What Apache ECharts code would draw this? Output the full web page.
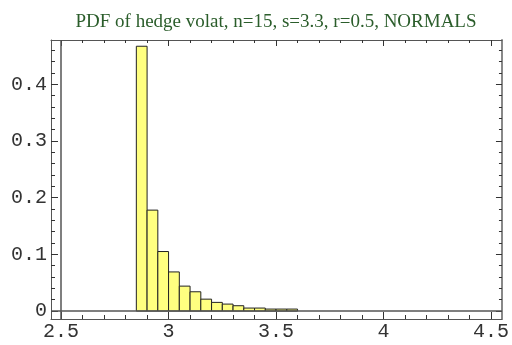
<!DOCTYPE html>
<html>
<head>
<meta charset="utf-8">
<script src="https://cdn.jsdelivr.net/npm/echarts@6/dist/echarts.min.js"></script>
<style>html,body{margin:0;padding:0;background:#fff;}#c{width:512px;height:345px;}</style>
</head>
<body>
<div id="c"></div>
<script>
const titleText = "PDF of hedge volat, n=15, s=3.3, r=0.5, NORMALS";
const binLefts = [2.85, 2.9, 2.95, 3.0, 3.05, 3.1, 3.15, 3.2, 3.25, 3.3, 3.35, 3.4, 3.45, 3.5, 3.55];
const binWidth = 0.05;
const pdfValues = [0.467, 0.178, 0.105, 0.069, 0.044, 0.034, 0.021, 0.0153, 0.0123, 0.0094, 0.0053, 0.0053, 0.0035, 0.0035, 0.0035];
const xTicks = [2.5, 3, 3.5, 4, 4.5];
const xMinorTicks = [2.5, 2.6, 2.7, 2.8, 2.9, 3.0, 3.1, 3.2, 3.3, 3.4, 3.5, 3.6, 3.7, 3.8, 3.9, 4.0, 4.1, 4.2, 4.3, 4.4, 4.5];
const yTicks = [0, 0.1, 0.2, 0.3, 0.4];
const yMinorTicks = [0, 0.02, 0.04, 0.06, 0.08, 0.1, 0.12, 0.14, 0.16, 0.18, 0.2, 0.22, 0.24, 0.26, 0.28, 0.3, 0.32, 0.34, 0.36, 0.38, 0.4, 0.42, 0.44, 0.46];

const X_MIN = 2.453, X_MAX = 4.551, Y_MIN = -0.014, Y_MAX = 0.478;
const frameColor = '#555';
const monoFont = '"Liberation Mono", "DejaVu Sans Mono", monospace';

function xAxisDef(pos, ticks, len, showLabel, showLine) {
  return {
    type: 'value', position: pos, min: X_MIN, max: X_MAX, gridIndex: 0,
    splitLine: {show: false},
    axisLine: {show: showLine, onZero: false, lineStyle: {color: frameColor, width: 1}},
    axisTick: {show: true, inside: true, length: len, customValues: ticks, lineStyle: {color: '#333', width: 1}},
    axisLabel: {show: showLabel, customValues: ticks, color: '#333', fontFamily: monoFont, fontSize: 20, margin: 3,
      formatter: v => String(v)}
  };
}
function yAxisDef(pos, ticks, len, showLabel, showLine, lineW, lineC) {
  return {
    type: 'value', position: pos, min: Y_MIN, max: Y_MAX, gridIndex: 0,
    splitLine: {show: false},
    axisLine: {show: showLine, onZero: false, lineStyle: {color: lineC || frameColor, width: lineW || 1}},
    axisTick: {show: true, inside: true, length: len, customValues: ticks, lineStyle: {color: '#333', width: 1}},
    axisLabel: {show: showLabel, customValues: ticks, color: '#333', fontFamily: monoFont, fontSize: 20, margin: 4,
      formatter: v => String(v)}
  };
}

const chart = echarts.init(document.getElementById('c'), null, {renderer: 'canvas'});
chart.setOption({
  animation: false,
  backgroundColor: '#fff',
  title: {
    text: titleText, left: 271, top: 8, textAlign: 'center',
    textStyle: {fontFamily: '"Liberation Serif", "Times New Roman", serif', fontWeight: 'normal', fontSize: 19, color: '#2b5d2b'}
  },
  grid: {left: 51, right: 10, top: 40, bottom: 26, containLabel: false},
  xAxis: [
    xAxisDef('bottom', xTicks, 7, true, true),
    xAxisDef('bottom', xMinorTicks, 4, false, false),
    xAxisDef('top', xTicks, 6, false, true),
    xAxisDef('top', xMinorTicks, 3, false, false)
  ],
  yAxis: [
    yAxisDef('left', yTicks, 7, true, true),
    yAxisDef('left', yMinorTicks, 4, false, false),
    yAxisDef('right', yTicks, 6, false, true, 2, '#888'),
    yAxisDef('right', yMinorTicks, 3, false, false)
  ],
  series: [{
    type: 'custom',
    xAxisIndex: 0, yAxisIndex: 0,
    data: binLefts.map((b, i) => [b, pdfValues[i]]),
    renderItem: function (params, api) {
      const x0 = api.value(0), h = api.value(1);
      const p0 = api.coord([x0, h]);
      const p1 = api.coord([x0 + binWidth, 0]);
      return {
        type: 'rect',
        shape: {x: p0[0], y: p0[1], width: p1[0] - p0[0], height: p1[1] - p0[1]},
        style: {fill: '#ffff80', stroke: '#222', lineWidth: 1}
      };
    },
    markLine: {
      silent: true, symbol: 'none', label: {show: false},
      lineStyle: {color: '#555', width: 1.5, type: 'solid'},
      data: [{xAxis: 2.5}, {yAxis: 0}]
    },
    z: 2
  }]
});
</script>
</body>
</html>
